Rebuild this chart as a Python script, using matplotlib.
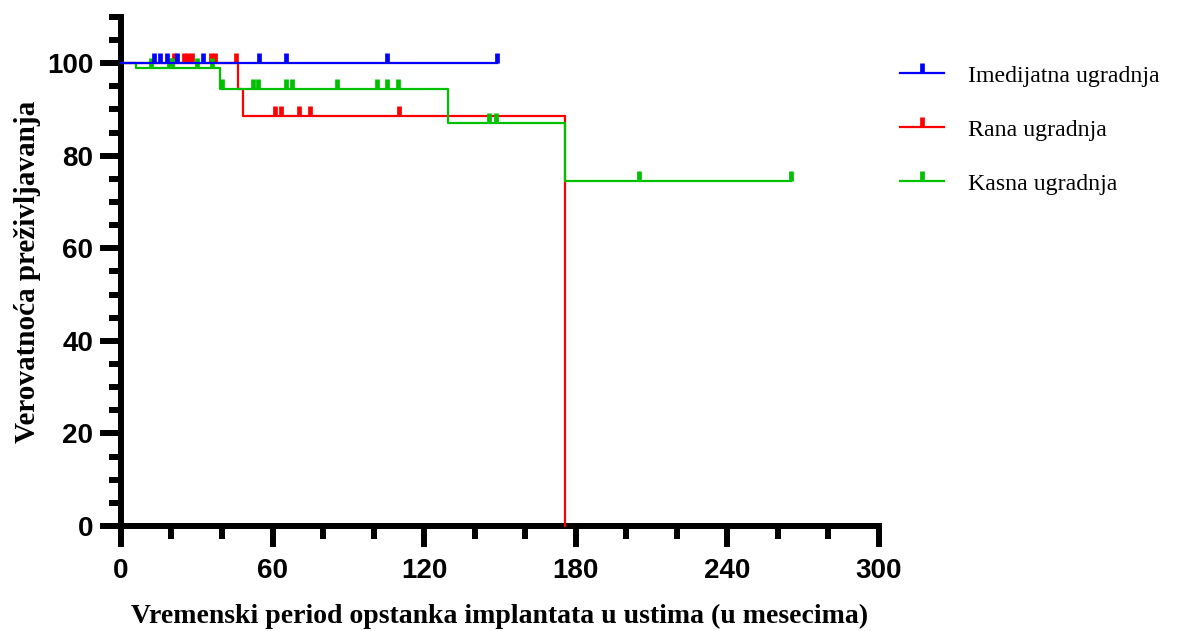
import numpy as np
import matplotlib
matplotlib.use("Agg")
import matplotlib.pyplot as plt
from matplotlib.lines import Line2D
from matplotlib.ticker import MultipleLocator, FixedLocator

# Kaplan-Meier steps (months, % survival)
imm_times = [0, 148.8]
imm_surv = [100, 100]
imm_cens = [13.1, 15.4, 18.2, 22.2, 32.4, 54.6, 65.3, 105.3, 148.8]

early_times = [0, 46.2, 48.4, 175.7]
early_surv = [100, 94.3, 88.6, 0]
early_cens = [21.0, 24.9, 26.5, 28.1, 35.6, 37.2, 45.5, 61.0, 63.3, 70.4, 74.8, 110.0]

late_times = [0, 5.9, 39.2, 129.5, 175.7, 265.0]
late_surv = [100, 98.9, 94.3, 87.1, 74.6, 74.6]
late_cens = [11.9, 19.0, 20.2, 30.1, 36.0, 40.0, 52.2, 54.2, 65.3, 67.7, 85.5,
             101.3, 105.3, 109.6, 145.6, 148.4, 205.0, 265.0]

labels = ["Imedijatna ugradnja", "Rana ugradnja", "Kasna ugradnja"]
colors = ["#0000ff", "#ff0000", "#00c000"]

groups = [(imm_times, imm_surv, imm_cens),
          (early_times, early_surv, early_cens),
          (late_times, late_surv, late_cens)]

# censor tick: vertical bar going up from the curve
tick_marker = [(0, 0), (0, 1)]


def surv_at(times, surv, t):
    i = np.searchsorted(times, t, side="right") - 1
    return np.asarray(surv)[i]


fig = plt.figure(figsize=(12, 6.31), dpi=100)
ax = fig.add_axes([0.1008, 0.1664, 0.6317, 0.807])

handles = []
for (t, s, c), col, lab in zip(groups, colors, labels):
    ax.plot(t, s, drawstyle="steps-post", color=col, lw=1.6, clip_on=False, zorder=3)
    ax.plot(c, surv_at(t, s, c), linestyle="none", marker=tick_marker,
            markersize=14.5, markeredgewidth=3.4, color=col, clip_on=False, zorder=3)
    handles.append(Line2D([], [], color=col, lw=1.6, marker=tick_marker,
                          markersize=14.5, markeredgewidth=3.4))

# draw blue on top like the original
ax.lines[0].set_zorder(5)
ax.lines[1].set_zorder(5)

ax.set_xlim(0, 300)
ax.set_ylim(0, 110)
ax.xaxis.set_major_locator(MultipleLocator(60))
ax.xaxis.set_minor_locator(MultipleLocator(20))
ax.yaxis.set_major_locator(FixedLocator([0, 20, 40, 60, 80, 100]))
ax.yaxis.set_minor_locator(MultipleLocator(5))

for side in ["top", "right"]:
    ax.spines[side].set_visible(False)
for side in ["left", "bottom"]:
    ax.spines[side].set_linewidth(4.3)

ax.tick_params(which="major", length=15, width=4.3, direction="out")
ax.tick_params(which="minor", length=9, width=4.3, direction="out")
ax.tick_params(axis="y", which="major", pad=5)
ax.tick_params(axis="x", which="major", pad=8)
for lbl in ax.get_xticklabels() + ax.get_yticklabels():
    lbl.set_fontfamily("Liberation Sans")
    lbl.set_fontweight("bold")
    lbl.set_fontsize(20)

ax.set_xlabel("Vremenski period opstanka implantata u ustima (u mesecima)",
              family="Liberation Serif", fontweight="bold", fontsize=20, labelpad=14)
ax.set_ylabel("Verovatnoća preživljavanja",
              family="Liberation Serif", fontweight="bold", fontsize=21, labelpad=4)

fig.legend(handles, labels, loc="upper left", bbox_to_anchor=(900 / 1200, 1 - 65 / 631),
           frameon=False, borderpad=0, borderaxespad=0,
           prop={"family": "Liberation Serif", "size": 17.2},
           handlelength=1.85, handletextpad=1.0, labelspacing=1.35)

fig.savefig("out.png", dpi=100)
